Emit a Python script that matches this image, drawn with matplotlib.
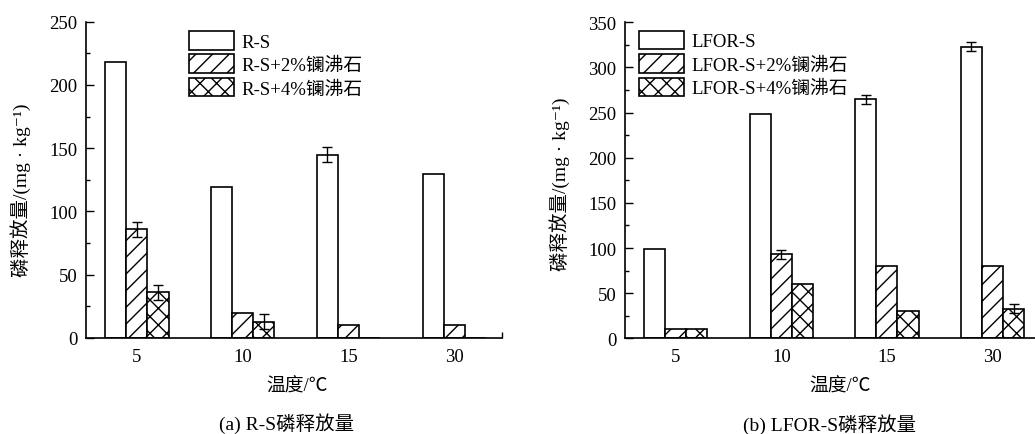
import matplotlib
matplotlib.use("Agg")
import matplotlib.pyplot as plt
import numpy as np

plt.rcParams['font.family'] = ['Liberation Serif', 'Noto Sans CJK SC', 'DejaVu Sans']
plt.rcParams['hatch.linewidth'] = 1.0

categories = ['5', '10', '15', '30']

# Panel (a) R-S
a_labels = ['R-S', 'R-S+2%镧沸石', 'R-S+4%镧沸石']
a_rs = [218, 119, 145, 130]
a_rs_err = [0, 0, 6, 0]
a_2 = [86, 20, 10, 10]
a_2_err = [6, 0, 0, 0]
a_4 = [36, 13, 0, 0]
a_4_err = [6, 6, 0, 0]

# Panel (b) LFOR-S
b_labels = ['LFOR-S', 'LFOR-S+2%镧沸石', 'LFOR-S+4%镧沸石']
b_rs = [99, 248, 265, 323]
b_rs_err = [0, 0, 5, 5]
b_2 = [10, 93, 80, 80]
b_2_err = [0, 5, 0, 0]
b_4 = [10, 60, 30, 33]
b_4_err = [0, 0, 0, 5]

W, H = 1035, 435
fig = plt.figure(figsize=(W / 100, H / 100), dpi=100)

hatches = ['', '//', 'xx']
FS = 13.5


def fx(px):
    return px / W


def fy(py):
    return 1 - py / H


def draw(ax, series, errs, labels, ymax, leg_xy):
    x = np.arange(len(categories))
    width = 0.2
    offs = [-width, 0, width]
    for s, e, h, lab, o in zip(series, errs, hatches, labels, offs):
        ax.bar(x + o, s, width, color='white', edgecolor='black', linewidth=1.2,
               hatch=h, label=lab, zorder=2)
        e = np.array(e)
        m = e > 0
        if m.any():
            ax.errorbar((x + o)[m], np.array(s)[m], yerr=e[m], fmt='none',
                        ecolor='black', elinewidth=1.0, capsize=3.5, capthick=1.0, zorder=3)
    ax.set_xticks(x)
    ax.set_xticklabels(categories, fontsize=FS)
    ax.set_xlim(-0.48, 3.45)
    ax.set_ylim(0, ymax)
    ax.set_yticks(np.arange(0, ymax + 1, 50))
    ax.set_yticks(np.arange(25, ymax, 50), minor=True)
    ax.tick_params(axis='y', which='major', direction='in', length=6, width=1, labelsize=FS, pad=6)
    ax.tick_params(axis='y', which='minor', direction='in', length=3, width=1)
    ax.tick_params(axis='x', which='major', length=0, labelsize=FS, pad=7)
    ax.set_xticks([3.45], minor=True)
    ax.tick_params(axis='x', which='minor', direction='in', length=4, width=1)
    for sp in ['top', 'right']:
        ax.spines[sp].set_visible(False)
    for sp in ['left', 'bottom']:
        ax.spines[sp].set_linewidth(1.2)
    ax.legend(loc='upper left', bbox_to_anchor=leg_xy, bbox_transform=fig.transFigure,
              frameon=False, fontsize=13.5, borderpad=0, borderaxespad=0,
              handlelength=2.4, handleheight=1.15, labelspacing=0.2, handletextpad=0.4)


# panel a
ax1 = fig.add_axes([fx(86), fy(339), fx(416), 316.3 / H])
draw(ax1, [a_rs, a_2, a_4], [a_rs_err, a_2_err, a_4_err], a_labels, 250, (fx(189), fy(32)))

# panel b
ax2 = fig.add_axes([fx(625), fy(339.3), fx(415), 316 / H])
draw(ax2, [b_rs, b_2, b_4], [b_rs_err, b_2_err, b_4_err], b_labels, 350, (fx(639), fy(31.7)))

ylab = '磷释放量/(mg · kg⁻¹)'
fig.text(fx(21), fy(190), ylab, rotation=90, ha='center', va='center', fontsize=14)
fig.text(fx(560), fy(184), ylab, rotation=90, ha='center', va='center', fontsize=14)
fig.text(fx(297), fy(387), '温度/℃', ha='center', va='center', fontsize=13.5)
fig.text(fx(840), fy(387), '温度/℃', ha='center', va='center', fontsize=13.5)
fig.text(fx(287), fy(424), '(a) R-S磷释放量', ha='center', va='center', fontsize=14)
fig.text(fx(830), fy(425), '(b) LFOR-S磷释放量', ha='center', va='center', fontsize=14)

fig.savefig('out.png', dpi=100, facecolor='white')
